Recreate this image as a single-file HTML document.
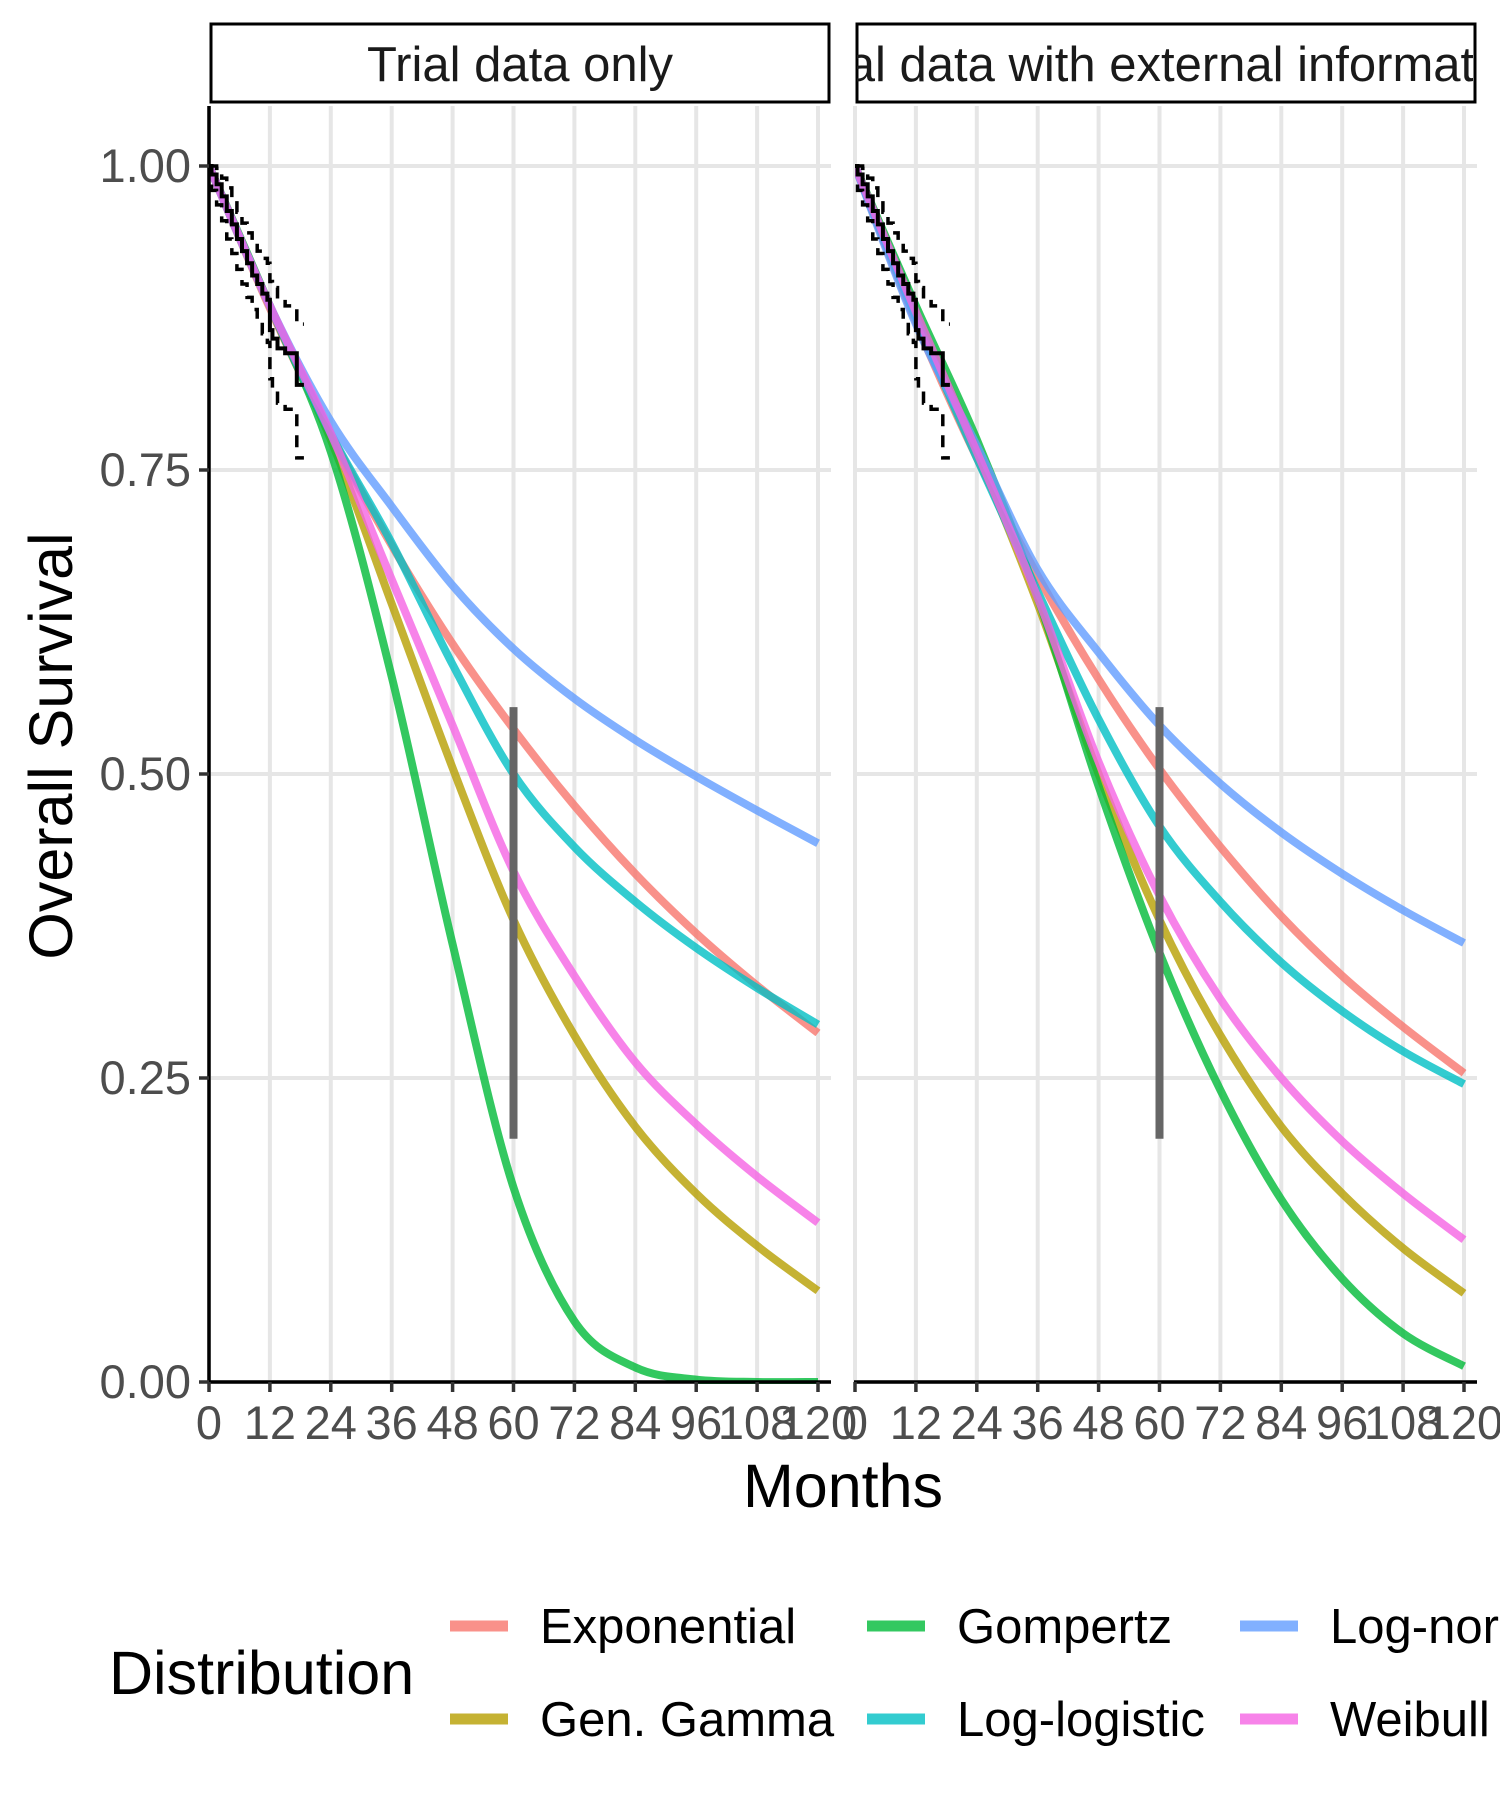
<!DOCTYPE html>
<html><head><meta charset="utf-8"><style>
html,body{margin:0;padding:0;background:#fff;}
svg{display:block;font-family:"Liberation Sans",Arial,sans-serif;}
</style></head><body>
<svg id="chart" width="1500" height="1800" viewBox="0 0 1500 1800" xmlns="http://www.w3.org/2000/svg">
<defs>
<clipPath id="clip1"><rect x="209" y="106" width="622" height="1278"/></clipPath>
<clipPath id="clip2"><rect x="855" y="106" width="622" height="1278"/></clipPath>
<clipPath id="stripclip2"><rect x="857" y="23" width="616" height="79"/></clipPath>
</defs>
</svg>
<script>
const months = [0,12,24,36,48,60,72,84,96,108,120];
const seriesNames = ["Exponential","Gen. Gamma","Gompertz","Log-logistic","Log-normal","Weibull"];
const seriesColors = ["#F8766D","#B79F00","#00BA38","#00BFC4","#619CFF","#F564E3"];
// Panel 1: Trial data only
const p1Exponential = [1,0.883,0.779,0.688,0.607,0.537,0.474,0.418,0.369,0.326,0.287];
const p1GenGamma    = [1,0.885,0.775,0.64,0.505,0.38,0.285,0.21,0.155,0.112,0.075];
const p1Gompertz    = [1,0.885,0.765,0.58,0.36,0.16,0.05,0.012,0.002,0.0,0.0];
const p1LogLogistic = [1,0.885,0.78,0.69,0.59,0.50,0.44,0.395,0.357,0.324,0.294];
const p1LogNormal   = [1,0.885,0.79,0.72,0.655,0.603,0.562,0.528,0.498,0.47,0.443];
const p1Weibull     = [1,0.885,0.78,0.66,0.54,0.42,0.334,0.263,0.212,0.169,0.131];
// Panel 2: Trial data with external information
const p2Exponential = [1,0.872,0.76,0.663,0.578,0.504,0.44,0.383,0.334,0.292,0.254];
const p2GenGamma    = [1,0.88,0.765,0.64,0.50,0.38,0.285,0.21,0.155,0.11,0.073];
const p2Gompertz    = [1,0.885,0.775,0.645,0.49,0.353,0.24,0.15,0.085,0.04,0.013];
const p2LogLogistic = [1,0.875,0.76,0.65,0.545,0.457,0.395,0.345,0.305,0.272,0.245];
const p2LogNormal   = [1,0.87,0.77,0.668,0.60,0.54,0.492,0.452,0.418,0.388,0.361];
const p2Weibull     = [1,0.88,0.765,0.645,0.51,0.40,0.315,0.25,0.198,0.155,0.117];
// Kaplan-Meier
const kmTimes = [0,0.5,1.5,2.5,3.5,4.5,5.5,6.5,7.5,8.5,9.5,10.5,11.5,12,12.5,13.5,15,17.3];
const kmSurv  = [1,0.993,0.985,0.975,0.963,0.952,0.94,0.93,0.92,0.91,0.903,0.895,0.89,0.865,0.858,0.85,0.846,0.82];
const kmEnd = 18.7;
const ciUpper = [1,1,0.998,0.99,0.982,0.972,0.962,0.953,0.945,0.937,0.93,0.924,0.92,0.905,0.9,0.89,0.885,0.87];
const ciLower = [1,0.98,0.968,0.955,0.94,0.928,0.915,0.903,0.892,0.882,0.872,0.862,0.855,0.825,0.815,0.805,0.8,0.76];
const yTicks = [0,0.25,0.5,0.75,1.0];
const yTickLabels = ["0.00","0.25","0.50","0.75","1.00"];
const xTicks = [0,12,24,36,48,60,72,84,96,108,120];
const barMonth = 60, barLow = 0.20, barHigh = 0.555;

const NS = "http://www.w3.org/2000/svg";
const svg = document.getElementById("chart");
function el(tag, attrs, parent){ const e=document.createElementNS(NS,tag); for(const k in attrs) e.setAttribute(k,attrs[k]); (parent||svg).appendChild(e); return e; }

const Y0 = 1382, YS = 1216;
function yScale(v){ return Y0 - v*YS; }
function makeX(x0){ return m => x0 + m*(609/120); }

const panels = [
 {x0:209, right:831, clip:"clip1", title:"Trial data only", data:[p1Exponential,p1GenGamma,p1Gompertz,p1LogLogistic,p1LogNormal,p1Weibull], key:"trial-only"},
 {x0:855, right:1477, clip:"clip2", title:"Trial data with external information", data:[p2Exponential,p2GenGamma,p2Gompertz,p2LogLogistic,p2LogNormal,p2Weibull], key:"external-info"}
];

function smoothPath(xs, ys){
  let d = "M"+xs[0]+","+ys[0];
  for(let i=0;i<xs.length-1;i++){
    const x0=xs[Math.max(i-1,0)], y0=ys[Math.max(i-1,0)];
    const x1=xs[i], y1=ys[i], x2=xs[i+1], y2=ys[i+1];
    const x3=xs[Math.min(i+2,xs.length-1)], y3=ys[Math.min(i+2,ys.length-1)];
    const c1x=x1+(x2-x0)/6, c1y=y1+(y2-y0)/6, c2x=x2-(x3-x1)/6, c2y=y2-(y3-y1)/6;
    d += " C"+c1x+","+c1y+" "+c2x+","+c2y+" "+x2+","+y2;
  }
  return d;
}
function stepPath(xf, times, surv, end){
  let d="M"+xf(times[0])+","+yScale(surv[0]);
  for(let i=1;i<times.length;i++){ d+=" H"+xf(times[i])+" V"+yScale(surv[i]); }
  d+=" H"+xf(end);
  return d;
}

panels.forEach((p,pi)=>{
  const xf = makeX(p.x0);
  const g = el("g",{});
  
  
  yTicks.forEach(v=>{ const l=el("line",{x1:p.x0,x2:p.right,y1:yScale(v),y2:yScale(v),stroke:"#e6e6e6","stroke-width":4},g);
      });
  xTicks.forEach(m=>{ const l=el("line",{x1:xf(m),x2:xf(m),y1:106,y2:Y0,stroke:"#e6e6e6","stroke-width":4},g);
      });
  const sg = el("g",{},g);
  
  
  el("rect",{x:p.x0+2,y:24,width:p.right-p.x0-4,height:78,fill:"#fff",stroke:"#000","stroke-width":3},sg);
  const st = el("text",{x:(p.x0+p.right)/2,y:81,"text-anchor":"middle","font-size":49,fill:"#1a1a1a"},sg);
  if(pi===1) st.setAttribute("clip-path","url(#stripclip2)");
  st.textContent = p.title;
  
  
  const cg = el("g",{"clip-path":"url(#"+p.clip+")"},g);
  p.data.forEach((vals,si)=>{
    const path = el("path",{d:smoothPath(months.map(xf), vals.map(yScale)),fill:"none",stroke:seriesColors[si],"stroke-width":8,"stroke-opacity":0.8,"stroke-linejoin":"round"},cg);
    
    
  });
  const up = el("path",{d:stepPath(xf,kmTimes,ciUpper,kmEnd),fill:"none",stroke:"#000","stroke-width":3.5,"stroke-dasharray":"12,9"},cg);
   
  const lo = el("path",{d:stepPath(xf,kmTimes,ciLower,kmEnd),fill:"none",stroke:"#000","stroke-width":3.5,"stroke-dasharray":"12,9"},cg);
   
  const km = el("path",{d:stepPath(xf,kmTimes,kmSurv,kmEnd),fill:"none",stroke:"#000","stroke-width":4},cg);
   
  const bar = el("line",{x1:xf(barMonth),x2:xf(barMonth),y1:yScale(barHigh),y2:yScale(barLow),stroke:"#666","stroke-width":8},g);
   
  const xa = el("line",{x1:p.x0-1,x2:p.right,y1:Y0,y2:Y0,stroke:"#000","stroke-width":3.5},g);
   
  if(pi===0){
    const ya = el("line",{x1:p.x0,x2:p.x0,y1:106,y2:Y0+1.5,stroke:"#000","stroke-width":3.5},g);
     
    yTicks.forEach((v,i)=>{
      el("line",{x1:p.x0-10,x2:p.x0,y1:yScale(v),y2:yScale(v),stroke:"#333","stroke-width":3.5},g);
      const t=el("text",{x:p.x0-18,y:yScale(v)+16,"text-anchor":"end","font-size":47,fill:"#4d4d4d"},g);
      t.textContent=yTickLabels[i];
       
    });
  }
  xTicks.forEach(m=>{
    el("line",{x1:xf(m),x2:xf(m),y1:Y0,y2:Y0+10,stroke:"#333","stroke-width":3.5},g);
    const t=el("text",{x:xf(m),y:Y0+57,"text-anchor":"middle","font-size":47,fill:"#4d4d4d"},g);
    t.textContent=String(m);
     
  });
});

const xt = el("text",{x:843,y:1507,"text-anchor":"middle","font-size":61,fill:"#000"});
xt.textContent="Months";
 
const yt = el("text",{x:0,y:0,"text-anchor":"middle","font-size":61,fill:"#000",transform:"translate(72,746) rotate(-90)"});
yt.textContent="Overall Survival";
 

const lg = el("g",{});


const ltitle = el("text",{x:109,y:1694,"font-size":61,fill:"#000"},lg);
ltitle.textContent="Distribution";
 
const colX = [450,867,1240];
const rowY = [1626,1719];
seriesNames.forEach((n,i)=>{
  const col=Math.floor(i/2), row=i%2;
  const eg = el("g",{},lg);
  
  
  el("line",{x1:colX[col],x2:colX[col]+58,y1:rowY[row],y2:rowY[row],stroke:seriesColors[i],"stroke-width":11,"stroke-opacity":0.8},eg);
  const t=el("text",{x:colX[col]+90,y:rowY[row]+17,"font-size":49,fill:"#000"},eg);
  t.textContent=n;
});
</script>
</body></html>
